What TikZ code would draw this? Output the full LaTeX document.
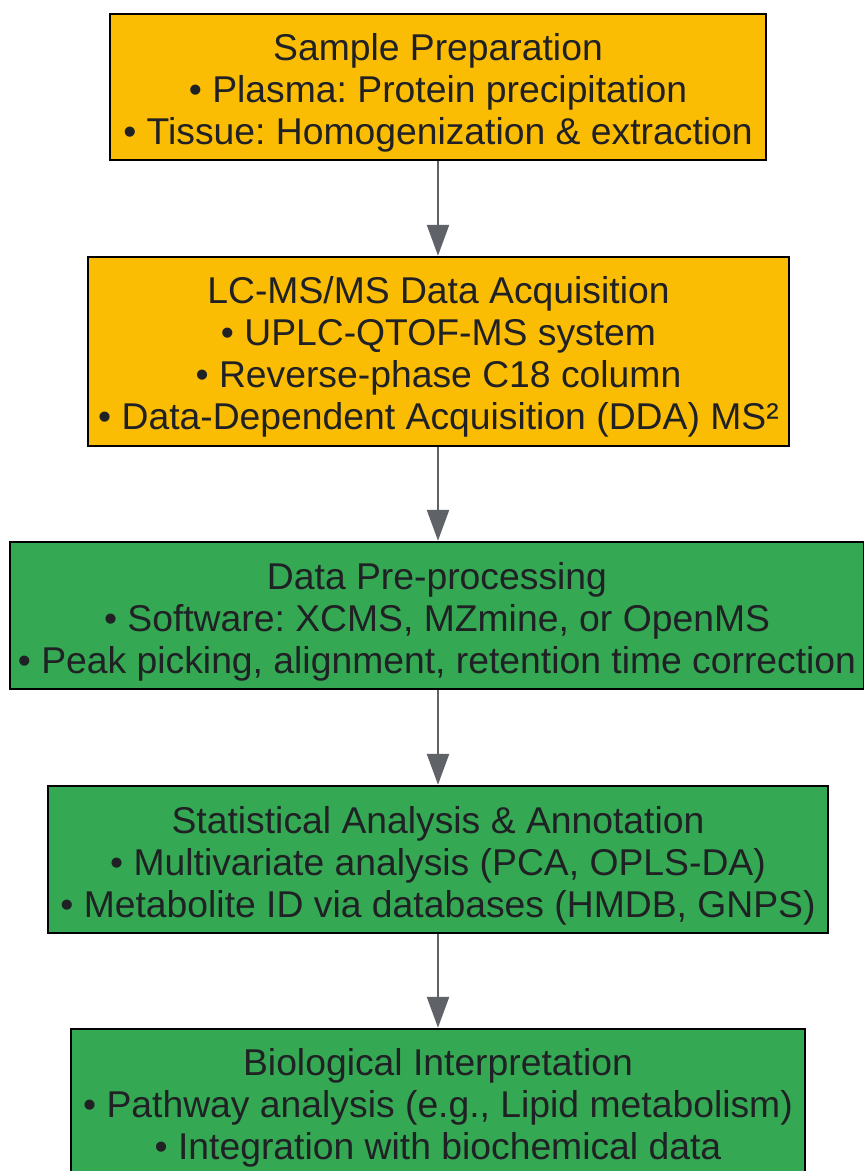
\documentclass[tikz,border=0pt]{standalone}
\usepackage{fontspec}
\setmainfont{Liberation Sans}
\frenchspacing
\usetikzlibrary{arrows.meta}
\definecolor{gyellow}{HTML}{FBBC04}
\definecolor{ggreen}{HTML}{34A853}
\definecolor{gtext}{HTML}{202124}
\definecolor{garrow}{HTML}{5F6368}
\tikzset{
  stepbox/.style={draw=black, line width=2.5pt, inner sep=0pt},
  steptext/.style={align=center, text=gtext, inner sep=0pt,
    font=\fontsize{37.3}{42}\selectfont},
  orangebox/.style={stepbox, fill=gyellow},
  greenbox/.style={stepbox, fill=ggreen},
  flow/.style={draw=garrow, line width=2.5pt, -{Triangle[width=22pt,length=31pt]}}
}
\begin{document}
\begin{tikzpicture}[x=1pt,y=-1pt]
\useasboundingbox (0,0) rectangle (864,1171);
\node[orangebox, minimum width=656pt, minimum height=146pt] (b1) at (438,87) {};
\node[steptext] (t1) at (438,93)
  {Sample Preparation\\• Plasma: Protein precipitation\\• Tissue: Homogenization \& extraction};
\node[orangebox, minimum width=701pt, minimum height=189pt] (b2) at (438.5,351.5) {};
\node[steptext] (t2) at (438.5,356.5)
  {LC-MS/MS Data Acquisition\\• UPLC-QTOF-MS system\\• Reverse-phase C18 column\\• Data-Dependent Acquisition (DDA) MS²};
\node[greenbox, minimum width=854pt, minimum height=147pt] (b3) at (437,615.5) {};
\node[steptext] (t3) at (437,621.5)
  {Data Pre-processing\\• Software: XCMS, MZmine, or OpenMS\\• Peak picking, alignment, retention time correction};
\node[greenbox, minimum width=780pt, minimum height=147pt] (b4) at (438,859.5) {};
\node[steptext] (t4) at (438,865.5)
  {Statistical Analysis \& Annotation\\• Multivariate analysis (PCA, OPLS-DA)\\• Metabolite ID via databases (HMDB, GNPS)};
\node[greenbox, minimum width=734pt, minimum height=147pt] (b5) at (438,1102.5) {};
\node[steptext] (t5) at (438,1107.5)
  {Biological Interpretation\\• Pathway analysis (e.g., Lipid metabolism)\\• Integration with biochemical data};
\draw[flow] (b1.south) -- (b1.south |- b2.north);
\draw[flow] (b2.south -| b1.south) -- (b1.south |- b3.north);
\draw[flow] (b3.south -| b1.south) -- (b1.south |- b4.north);
\draw[flow] (b4.south) -- (b5.north);
\end{tikzpicture}
\end{document}
